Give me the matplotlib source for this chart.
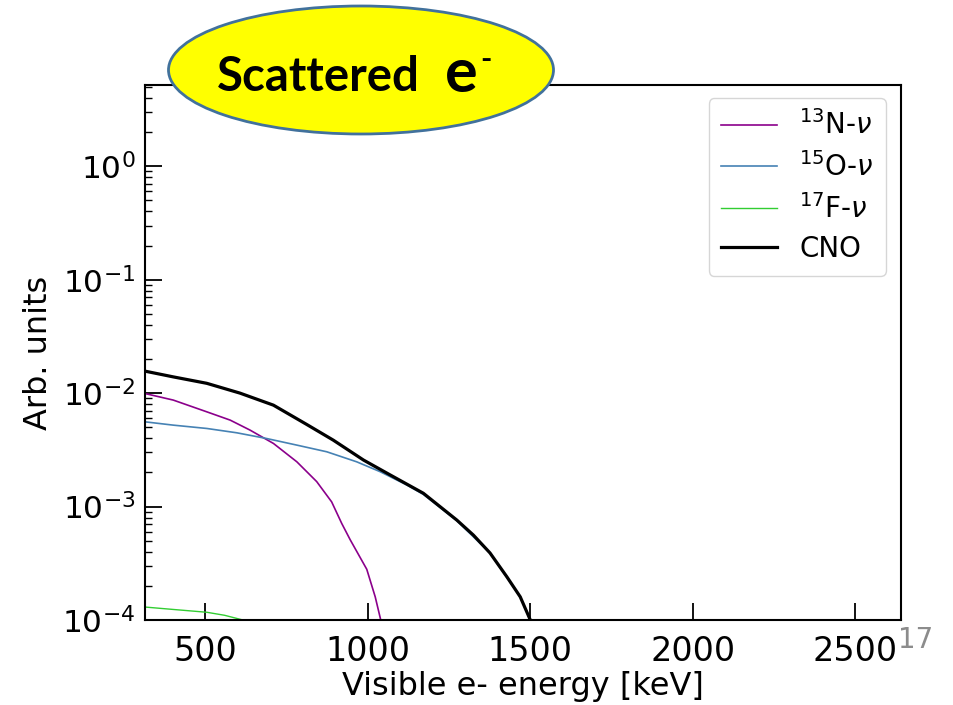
import matplotlib
matplotlib.use("Agg")
import matplotlib.pyplot as plt
from matplotlib.patches import Ellipse

# ---- data ----
cno_e = [316, 402, 505, 607, 710, 812, 894, 987, 1069, 1171, 1274, 1325, 1376, 1428, 1469, 1500, 1520]
cno_v = [0.0156, 0.0139, 0.0122, 0.0100, 0.00783, 0.0053, 0.00385, 0.00257, 0.0019, 0.00131,
         0.00076, 0.00056, 0.00039, 0.00024, 0.00016, 0.0001, 0.00008]

n13_e = [316, 402, 505, 577, 638, 710, 782, 843, 889, 920, 946, 997, 1023, 1040, 1050]
n13_v = [0.0099, 0.00868, 0.00684, 0.00578, 0.00472, 0.0036, 0.00248, 0.00166, 0.0011,
         0.00071, 0.00051, 0.00028, 0.00016, 0.0001, 0.00008]

o15_e = [316, 402, 505, 597, 689, 782, 874, 966, 1038, 1120, 1171, 1274, 1376, 1469, 1500, 1520]
o15_v = [0.00558, 0.00522, 0.00488, 0.00447, 0.00398, 0.00348, 0.00304, 0.00248, 0.00203,
         0.00155, 0.00128, 0.00075, 0.00039, 0.00016, 0.0001, 0.00008]

f17_e = [316, 400, 505, 560, 616, 640]
f17_v = [0.00013, 0.000124, 0.000117, 0.00011, 0.0001, 0.000095]

labels = [r"$^{13}$N-$\nu$", r"$^{15}$O-$\nu$", r"$^{17}$F-$\nu$", "CNO"]
xticks = [500, 1000, 1500, 2000, 2500]

fig = plt.figure(figsize=(9.54, 7.05), dpi=100)
ax = fig.add_axes([145/954, 1-620/705, (901-145)/954, (620-85)/705])

ax.plot(n13_e, n13_v, color="#8B008B", lw=1.2, label=labels[0])
ax.plot(o15_e, o15_v, color="#4682B4", lw=1.2, label=labels[1])
ax.plot(f17_e, f17_v, color="#32CD32", lw=1.0, label=labels[2])
ax.plot(cno_e, cno_v, color="black", lw=2.3, label=labels[3])

ax.set_yscale("log")
ax.set_xlim(315, 2640)
ax.set_ylim(1e-4, 5.2)
ax.set_xticks(xticks)
ax.set_xticklabels([str(t) for t in xticks])
ax.tick_params(axis="both", which="major", direction="in", length=12, width=1.3,
               top=False, right=False)
ax.tick_params(axis="x", which="major", pad=11, labelsize=24)
ax.tick_params(axis="y", which="major", pad=7, labelsize=22.5)
ax.tick_params(axis="y", which="minor", direction="in", length=5, width=1.0, right=False)
ax.tick_params(axis="x", which="minor", bottom=False)
for s in ax.spines.values():
    s.set_linewidth(1.5)
ax.set_xlabel("Visible e- energy [keV]", fontsize=23, labelpad=2)
ax.set_ylabel("Arb. units", fontsize=23, labelpad=6)

leg = ax.legend(loc="upper right", bbox_to_anchor=(886/954, 1-98/705),
                bbox_transform=fig.transFigure, fontsize=20, handlelength=2.0,
                handletextpad=0.8, labelspacing=0.42, borderaxespad=0, borderpad=0.45,
                frameon=True)
leg.get_frame().set_edgecolor("#cccccc")

# title ellipse
ell = Ellipse((361/954, 1-70/705), 385/954, 128/705, transform=fig.transFigure,
              facecolor="#FFFF00", edgecolor="#41719C", lw=2, zorder=10, clip_on=False)
fig.patches.append(ell)
fig.text(318/954, 1-77/705, "Scattered", fontsize=34, fontweight="bold", family="Lato",
         ha="center", va="center", zorder=11)
fig.text(445/954, 1-92/705, "e", fontsize=44, fontweight="bold", family="Lato",
         ha="left", va="baseline", zorder=11)
fig.text(480/954, 1-60/705, "-", fontsize=22, fontweight="bold", family="Lato",
         ha="left", va="center", zorder=11)

fig.text(916/954, 1-640/705, "17", fontsize=20, color="#8C8C8C", ha="center", va="center")

fig.savefig("out.png", dpi=100)
